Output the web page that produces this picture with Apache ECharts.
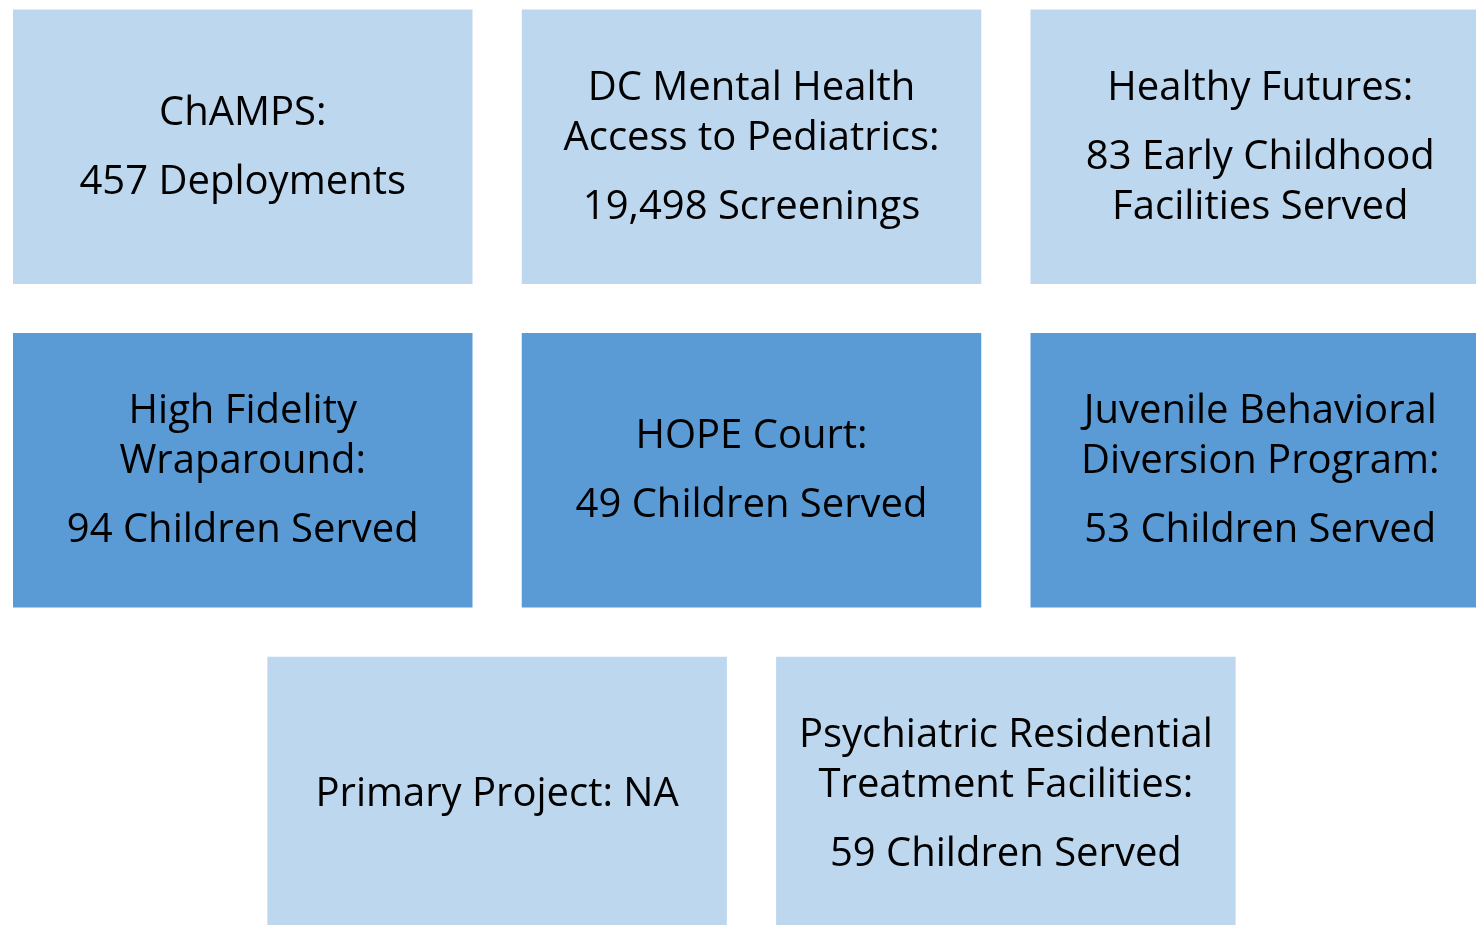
<!DOCTYPE html>
<html>
<head>
<meta charset="utf-8">
<script src="https://cdn.jsdelivr.net/npm/echarts@6/dist/echarts.min.js"></script>
<style>
  html, body { margin: 0; padding: 0; background: #fff; }
  #main { width: 1476px; height: 925px; }
</style>
</head>
<body>
<div id="main"></div>
<script>
// programme names (title lines) and what each one reported
var programs = [
    'ChAMPS:',
    'DC Mental Health\nAccess to Pediatrics:',
    'Healthy Futures:',
    'High Fidelity\nWraparound:',
    'HOPE Court:',
    'Juvenile Behavioral\nDiversion Program:',
    'Primary Project: NA',
    'Psychiatric Residential\nTreatment Facilities:'
];
var results = [
    '457 Deployments',
    '19,498 Screenings',
    '83 Early Childhood\nFacilities Served',
    '94 Children Served',
    '49 Children Served',
    '53 Children Served',
    '',
    '59 Children Served'
];
// slot of each tile in the layout (column, row)
var cols = [0, 1, 2, 0, 1, 2, 0.5, 1.5];
var rows = [0, 0, 0, 1, 1, 1, 2, 2];

var LIGHT = '#BDD7EE';
var DARK = '#5B9BD5';
var TILE_W = 0.9032; // in column units
var TILE_H = 0.8483; // in row units
var FONT = '"Open Sans", "Noto Sans", sans-serif';

var data = [];
for (var i = 0; i < programs.length; i++) {
    data.push([cols[i], rows[i], i]);
}

function buildText(i) {
    var parts = programs[i].split('\n').map(function (l) { return '{t|' + l + '}'; });
    if (results[i]) {
        parts.push('{s| }');
        results[i].split('\n').forEach(function (l) { parts.push('{t|' + l + '}'); });
    }
    return parts.join('\n');
}

var myChart = echarts.init(document.getElementById('main'));

var option = {
    animation: false,
    grid: { left: 0, right: 0, top: 0, bottom: 0 },
    xAxis: { type: 'value', min: -0.47715, max: 2.42408, show: false },
    yAxis: { type: 'value', inverse: true, min: -0.45349, max: 2.40494, show: false },
    series: [{
        type: 'custom',
        data: data,
        renderItem: function (params, api) {
            var c = api.coord([api.value(0), api.value(1)]);
            var s = api.size([TILE_W, TILE_H]);
            var idx = api.value(2);
            return {
                type: 'group',
                children: [{
                    type: 'rect',
                    shape: { x: c[0] - s[0] / 2, y: c[1] - s[1] / 2, width: s[0], height: s[1] },
                    style: { fill: api.value(1) === 1 ? DARK : LIGHT }
                }, {
                    type: 'text',
                    style: {
                        x: c[0],
                        y: c[1] + 1,
                        text: buildText(idx),
                        align: 'center',
                        verticalAlign: 'middle',
                        rich: {
                            t: { fontSize: 40, fontFamily: FONT, lineHeight: 50, fill: '#000' },
                            s: { fontSize: 10, lineHeight: 19 }
                        }
                    }
                }]
            };
        }
    }]
};

myChart.setOption(option);
</script>
</body>
</html>
